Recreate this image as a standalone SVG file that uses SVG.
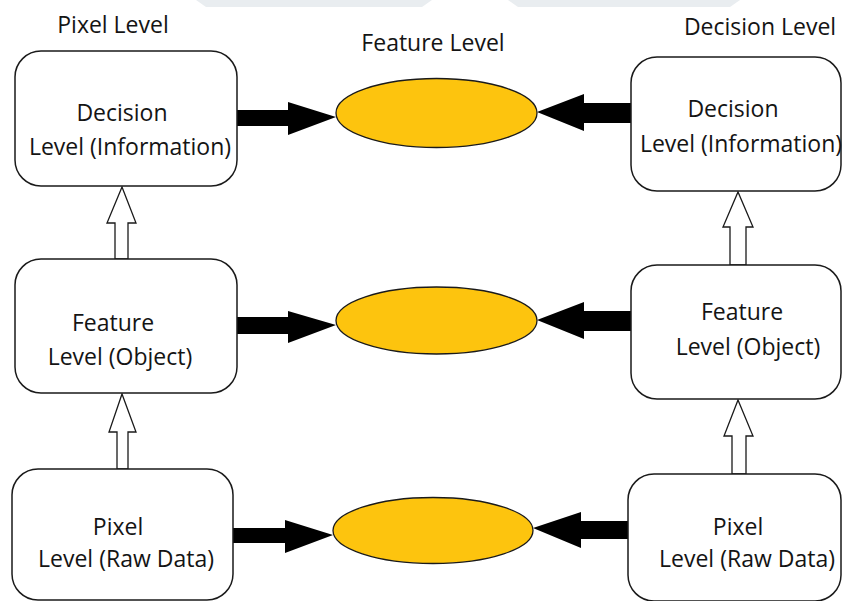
<svg xmlns="http://www.w3.org/2000/svg" width="842" height="601" viewBox="0 0 842 601">
<style>
.box{fill:#fff;stroke:#1a1a1a;stroke-width:1.5}
.ell{fill:#FDC40E;stroke:#1a1a1a;stroke-width:1.3}
.t{font-family:"Open Sans","Noto Sans","Liberation Sans",sans-serif;font-size:23px;fill:#141414;text-anchor:middle}
.solid{fill:#000}
.hollow{fill:#fff;stroke:#1a1a1a;stroke-width:1.3}
.wm{fill:#e9edf0}
</style>
<rect width="842" height="601" fill="#fff"/>
<g id="watermark">
<polygon class="wm" points="196,0 432,0 422,7 206,7"/>
<polygon class="wm" points="508,0 740,0 730,7 518,7"/>
</g>
<g id="labels">
<text class="t" x="113" y="33">Pixel Level</text>
<text class="t" x="433" y="51">Feature Level</text>
<text class="t" x="760" y="35">Decision Level</text>
</g>
<g id="connectors">
<polygon class="solid" points="237,110 288,110 288,102 336,117 288,135 288,126 237,126"/>
<polygon class="solid" points="631,103 584,103 584,94 537,112 584,131 584,123 631,123"/>
<polygon class="solid" points="237,317 288,317 288,311 336,325 288,343 288,334 237,334"/>
<polygon class="solid" points="631,311 584,311 584,302 537,320 584,339 584,331 631,331"/>
<polygon class="solid" points="233,528 285,528 285,520 333,535 285,553 285,543 233,543"/>
<polygon class="solid" points="628,521 581,521 581,512 533,528 581,548 581,539 628,539"/>
<polygon class="hollow" points="115,259 115,223 107,223 122,187 136,223 128,223 128,259"/>
<polygon class="hollow" points="117,469 117,432 109,432 122,394 136,432 128,432 128,469"/>
<polygon class="hollow" points="730,265 730,227 723,227 738,192 753,227 746,227 746,265"/>
<polygon class="hollow" points="732,474 732,436 724,436 738,400 753,436 746,436 746,474"/>
</g>
<g id="fusion-decision">
<ellipse class="ell" cx="436.5" cy="113" rx="100.5" ry="34.5"/>
</g>
<g id="fusion-feature">
<ellipse class="ell" cx="436.5" cy="320.5" rx="100.5" ry="33.5"/>
</g>
<g id="fusion-pixel">
<ellipse class="ell" cx="433" cy="530.5" rx="100" ry="33"/>
</g>
<g id="left-decision">
<rect class="box" x="15" y="51" width="222" height="135" rx="26"/>
<text class="t" x="122" y="121">Decision</text>
<text class="t" x="130" y="155">Level (Information)</text>
</g>
<g id="left-feature">
<rect class="box" x="15" y="259" width="222" height="134" rx="26"/>
<text class="t" x="113" y="331">Feature</text>
<text class="t" x="120" y="365">Level (Object)</text>
</g>
<g id="left-pixel">
<rect class="box" x="12" y="469" width="221" height="131" rx="26"/>
<text class="t" x="118" y="535">Pixel</text>
<text class="t" x="126" y="567">Level (Raw Data)</text>
</g>
<g id="right-decision">
<rect class="box" x="631" y="57" width="210" height="134" rx="26"/>
<text class="t" x="733" y="117">Decision</text>
<text class="t" x="741" y="152">Level (Information)</text>
</g>
<g id="right-feature">
<rect class="box" x="631" y="265" width="210" height="134" rx="26"/>
<text class="t" x="742" y="320">Feature</text>
<text class="t" x="748" y="355">Level (Object)</text>
</g>
<g id="right-pixel">
<rect class="box" x="628" y="474" width="213" height="127" rx="26"/>
<text class="t" x="738" y="535">Pixel</text>
<text class="t" x="747" y="567">Level (Raw Data)</text>
</g>
</svg>
